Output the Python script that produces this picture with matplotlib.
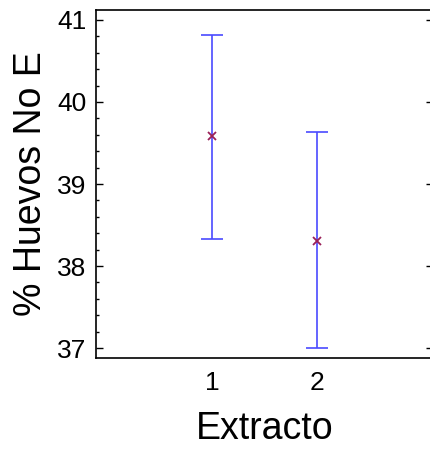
import matplotlib
matplotlib.use("Agg")
import matplotlib.pyplot as plt
from matplotlib.ticker import MultipleLocator

# data
extracto = [1, 2]
media = [39.58, 38.31]
lim_inf = [38.33, 37.00]
lim_sup = [40.82, 39.63]

err_low = [m - lo for m, lo in zip(media, lim_inf)]
err_high = [hi - m for m, hi in zip(media, lim_sup)]

plt.rcParams["font.family"] = ["Liberation Sans", "DejaVu Sans"]

W, H = 430, 450
fig = plt.figure(figsize=(W / 100, H / 100), dpi=100)
# the right spine sits just outside the picture, as in the reference
ax = fig.add_axes([96 / W, 1 - 358 / H, (433 - 96) / W, (358 - 10) / H])

ax.errorbar(extracto, media, yerr=[err_low, err_high], fmt="none",
            ecolor="#4a4aff", elinewidth=1.2, capsize=8, capthick=1.2)
ax.plot(extracto, media, linestyle="none", marker="x", markersize=6,
        markeredgewidth=1.3, color="#9a2058")

ax.set_xlim(-0.105, 3.105)
ax.set_ylim(36.88, 41.12)
ax.set_xticks(extracto)
ax.yaxis.set_major_locator(MultipleLocator(1))
ax.yaxis.set_minor_locator(MultipleLocator(0.2))

ax.tick_params(axis="y", which="major", direction="in", length=5, width=1,
               labelsize=19, pad=7, right=True)
ax.tick_params(axis="y", which="minor", direction="in", length=2.5, width=1)
ax.tick_params(axis="x", length=0, labelsize=19, pad=9)
for s in ax.spines.values():
    s.set_linewidth(1.2)

ax.set_xlabel("Extracto", fontsize=27, labelpad=12)
ax.set_ylabel("% Huevos No E", fontsize=27, labelpad=6)

fig.savefig("out.png", dpi=100)
